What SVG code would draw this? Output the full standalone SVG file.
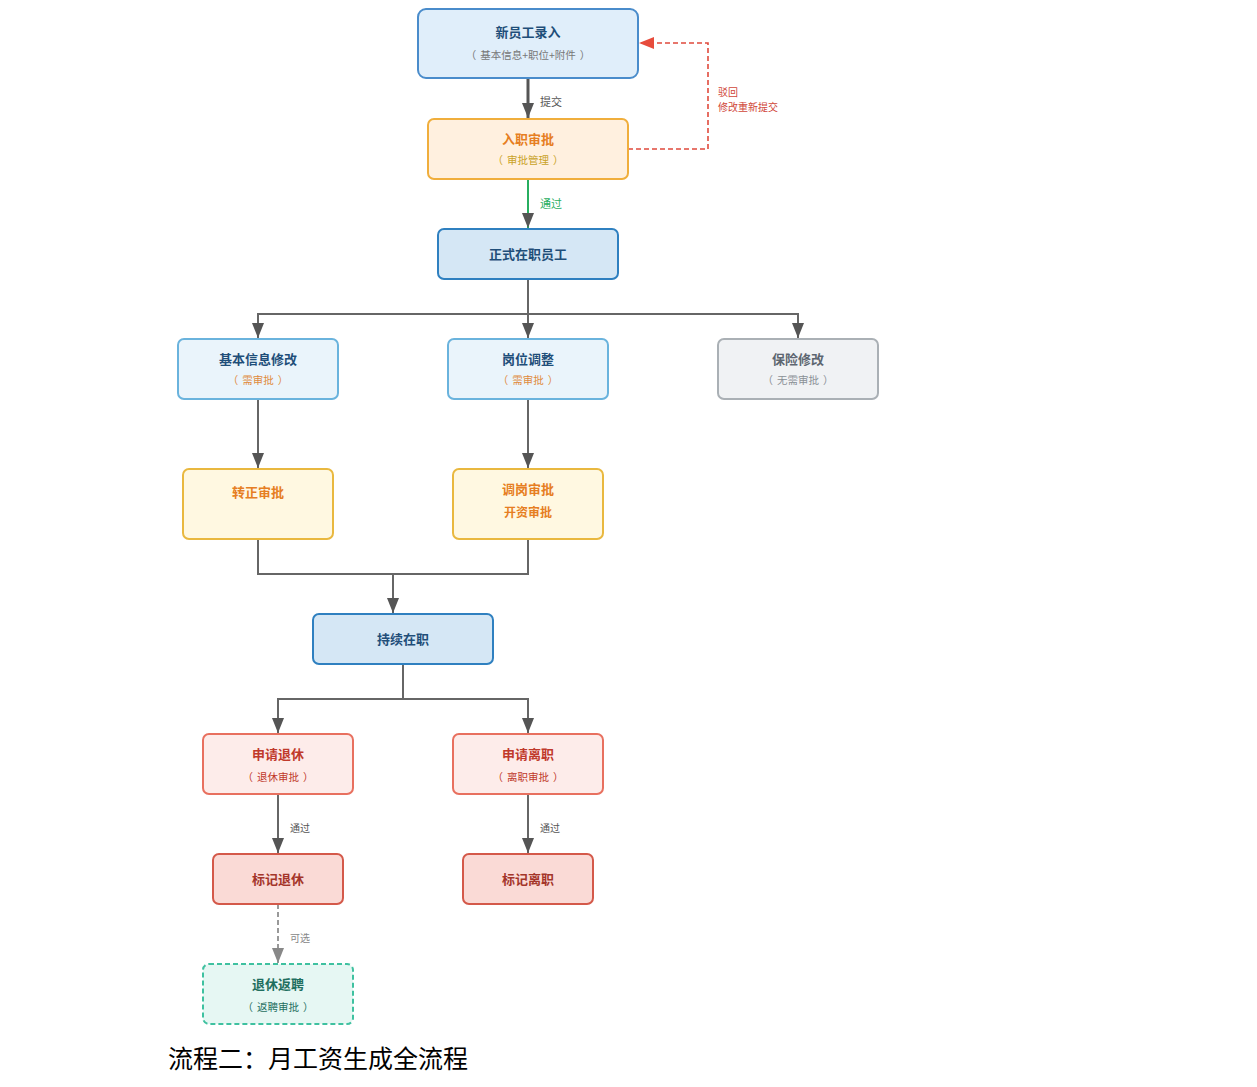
<svg xmlns="http://www.w3.org/2000/svg" width="1257" height="1087" viewBox="0 0 1257 1087">
<style>
text{font-family:"Noto Sans CJK SC","Noto Sans",sans-serif;text-anchor:middle}
.t{font-size:13px;font-weight:bold}
.s{font-size:10.5px}
.l{font-size:11px;text-anchor:start}
.ln{fill:none;stroke:#666;stroke-width:2}
.blue rect{fill:#e0eefa;stroke:#4a8ccb;stroke-width:2}
.org rect{fill:#fff0df;stroke:#f0ae3c;stroke-width:2}
.main rect{fill:#d5e7f5;stroke:#2f80c0;stroke-width:2}
.lb rect{fill:#eaf4fb;stroke:#6ab3dd;stroke-width:2}
.gr rect{fill:#f0f2f4;stroke:#aab0b5;stroke-width:2}
.yl rect{fill:#fff8e1;stroke:#e9b83f;stroke-width:2}
.rd rect{fill:#fdecea;stroke:#e8705f;stroke-width:2}
.rd2 rect{fill:#fadad6;stroke:#d4594a;stroke-width:2}
.tl rect{fill:#e6f7f3;stroke:#3fc1a0;stroke-width:2;stroke-dasharray:5 3}
</style>
<defs>
<marker id="ah" viewBox="0 0 15 12" refX="15" refY="6" markerWidth="15" markerHeight="12" markerUnits="userSpaceOnUse" orient="auto"><path d="M0,0L15,6L0,12z" fill="#555"/></marker>
<marker id="ahr" viewBox="0 0 15 12" refX="15" refY="6" markerWidth="15" markerHeight="12" markerUnits="userSpaceOnUse" orient="auto"><path d="M0,0L15,6L0,12z" fill="#e74c3c"/></marker>
<marker id="ahg" viewBox="0 0 15 12" refX="15" refY="6" markerWidth="15" markerHeight="12" markerUnits="userSpaceOnUse" orient="auto"><path d="M0,0L15,6L0,12z" fill="#888"/></marker>
</defs>
<rect width="1257" height="1087" fill="#fff"/>
<g id="connectors">
<path class="ln" d="M528,78V118" style="stroke:#555;stroke-width:3" marker-end="url(#ah)"/>
<text class="l" x="540" y="106" fill="#555">提交</text>
<path class="ln" d="M528,179V228" style="stroke:#27ae60" marker-end="url(#ah)"/>
<text class="l" x="540" y="208" fill="#27ae60">通过</text>
<path d="M628,149H708V43H639" fill="none" stroke="#e04a3c" stroke-width="1.6" stroke-dasharray="5 3" marker-end="url(#ahr)"/>
<text class="l" x="718" y="96" fill="#d0473a" style="font-size:10px">驳回</text>
<text class="l" x="718" y="111" fill="#d0473a" style="font-size:10px">修改重新提交</text>
<path class="ln" d="M528,279V314"/>
<path class="ln" d="M258,339V314H798V339"/>
<path class="ln" d="M258,314V338" marker-end="url(#ah)"/>
<path class="ln" d="M528,314V338" marker-end="url(#ah)"/>
<path class="ln" d="M798,314V338" marker-end="url(#ah)"/>
<path class="ln" d="M258,399V468" marker-end="url(#ah)"/>
<path class="ln" d="M528,399V468" marker-end="url(#ah)"/>
<path class="ln" d="M258,539V574H528V539"/>
<path class="ln" d="M393,574V613" marker-end="url(#ah)"/>
<path class="ln" d="M403,664V699"/>
<path class="ln" d="M278,734V699H528V734"/>
<path class="ln" d="M278,699V733" marker-end="url(#ah)"/>
<path class="ln" d="M528,699V733" marker-end="url(#ah)"/>
<path class="ln" d="M278,794V853" marker-end="url(#ah)"/>
<text class="l" x="290" y="832" fill="#555" style="font-size:10px">通过</text>
<path class="ln" d="M528,794V853" marker-end="url(#ah)"/>
<text class="l" x="540" y="832" fill="#555" style="font-size:10px">通过</text>
<path d="M278,904V963" fill="none" stroke="#999" stroke-width="2" stroke-dasharray="5 3" marker-end="url(#ahg)"/>
<text class="l" x="290" y="942" fill="#888" style="font-size:10px">可选</text>
</g>
<g id="n1" class="blue"><rect x="418" y="9" width="220" height="69" rx="8"/><text class="t" x="528" y="37" fill="#1f4e79">新员工录入</text><text class="s" x="528" y="59" fill="#777">（<tspan dx="4">基本信息+职位+附件</tspan><tspan dx="4">）</tspan></text></g>
<g id="n2" class="org"><rect x="428" y="119" width="200" height="60" rx="6"/><text class="t" x="528" y="144" fill="#e67e22">入职审批</text><text class="s" x="528" y="164" fill="#c9a227">（<tspan dx="4">审批管理</tspan><tspan dx="4">）</tspan></text></g>
<g id="n3" class="main"><rect x="438" y="229" width="180" height="50" rx="6"/><text class="t" x="528" y="259" fill="#1f4e79">正式在职员工</text></g>
<g id="n4" class="lb"><rect x="178" y="339" width="160" height="60" rx="6"/><text class="t" x="258" y="364" fill="#1f4e79">基本信息修改</text><text class="s" x="258" y="384" fill="#e08a3c">（<tspan dx="4">需审批</tspan><tspan dx="4">）</tspan></text></g>
<g id="n5" class="lb"><rect x="448" y="339" width="160" height="60" rx="6"/><text class="t" x="528" y="364" fill="#1f4e79">岗位调整</text><text class="s" x="528" y="384" fill="#e08a3c">（<tspan dx="4">需审批</tspan><tspan dx="4">）</tspan></text></g>
<g id="n6" class="gr"><rect x="718" y="339" width="160" height="60" rx="6"/><text class="t" x="798" y="364" fill="#5d6670">保险修改</text><text class="s" x="798" y="384" fill="#8a9096">（<tspan dx="4">无需审批</tspan><tspan dx="4">）</tspan></text></g>
<g id="n7" class="yl"><rect x="183" y="469" width="150" height="70" rx="6"/><text class="t" x="258" y="497" fill="#e67e22">转正审批</text></g>
<g id="n8" class="yl"><rect x="453" y="469" width="150" height="70" rx="6"/><text class="t" x="528" y="494" fill="#e67e22">调岗审批</text><text class="t" x="528" y="517" fill="#e67e22" style="font-size:12px">开资审批</text></g>
<g id="n9" class="main"><rect x="313" y="614" width="180" height="50" rx="6"/><text class="t" x="403" y="644" fill="#1f4e79">持续在职</text></g>
<g id="n10" class="rd"><rect x="203" y="734" width="150" height="60" rx="6"/><text class="t" x="278" y="759" fill="#c0392b">申请退休</text><text class="s" x="278" y="781" fill="#c0392b">（<tspan dx="4">退休审批</tspan><tspan dx="4">）</tspan></text></g>
<g id="n11" class="rd"><rect x="453" y="734" width="150" height="60" rx="6"/><text class="t" x="528" y="759" fill="#c0392b">申请离职</text><text class="s" x="528" y="781" fill="#c0392b">（<tspan dx="4">离职审批</tspan><tspan dx="4">）</tspan></text></g>
<g id="n12" class="rd2"><rect x="213" y="854" width="130" height="50" rx="6"/><text class="t" x="278" y="884" fill="#a4352a">标记退休</text></g>
<g id="n13" class="rd2"><rect x="463" y="854" width="130" height="50" rx="6"/><text class="t" x="528" y="884" fill="#a4352a">标记离职</text></g>
<g id="n14" class="tl"><rect x="203" y="964" width="150" height="60" rx="6"/><text class="t" x="278" y="989" fill="#1f6f5f">退休返聘</text><text class="s" x="278" y="1011" fill="#1f6f5f">（<tspan dx="4">返聘审批</tspan><tspan dx="4">）</tspan></text></g>
<text x="168" y="1068" style="font-size:25px;text-anchor:start" fill="#000">流程二：月工资生成全流程</text>
</svg>
